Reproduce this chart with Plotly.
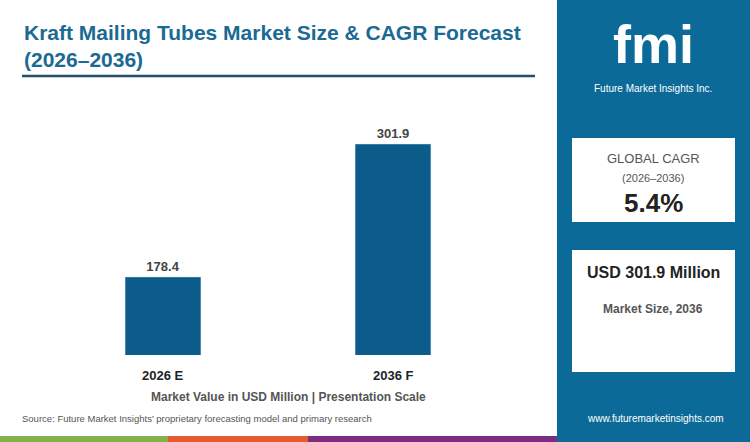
import plotly.graph_objects as go

years = ["2026 E", "2036 F"]
values = [178.4, 301.9]
cagr = "5.4%"
market_size = "USD 301.9 Million"

W, H = 750, 442
def py(p):  # pixel y -> paper y
    return 1 - p / H
def px_(p):
    return p / W

bar_color = "#0b5c8a"
panel = "#0b6a98"

fig = go.Figure(go.Bar(
    x=years, y=values, width=0.33, marker_color=bar_color,
    texttemplate="<b>%{y:.1f}</b>", textposition="outside",
    textfont=dict(size=13, color="#444", family="Liberation Sans, Arial"),
    cliponaxis=False,
))

shapes = [
    dict(type="rect", xref="paper", yref="paper", x0=px_(557), x1=1, y0=0, y1=1,
         fillcolor=panel, line_width=0, layer="below"),
    dict(type="line", xref="paper", yref="paper", x0=px_(22), x1=px_(535), y0=py(76), y1=py(76),
         line=dict(color="#1f4e6e", width=2.5)),
    dict(type="rect", xref="paper", yref="paper", x0=px_(572), x1=px_(735), y0=py(222), y1=py(138),
         fillcolor="white", line_width=0),
    dict(type="rect", xref="paper", yref="paper", x0=px_(572), x1=px_(735), y0=py(372), y1=py(250),
         fillcolor="white", line_width=0),
    dict(type="rect", xref="paper", yref="paper", x0=0, x1=px_(168), y0=0, y1=py(436),
         fillcolor="#84b04a", line_width=0),
    dict(type="rect", xref="paper", yref="paper", x0=px_(168), x1=px_(308), y0=0, y1=py(436),
         fillcolor="#e65a2e", line_width=0),
    dict(type="rect", xref="paper", yref="paper", x0=px_(308), x1=px_(557), y0=0, y1=py(436),
         fillcolor="#7b2d82", line_width=0),
]

def ann(x, y, text, size, color, bold=False, xanchor="center"):
    return dict(xref="paper", yref="paper", x=px_(x), y=py(y), text=f"<b>{text}</b>" if bold else text,
                showarrow=False, xanchor=xanchor, yanchor="middle",
                font=dict(size=size, color=color, family="Liberation Sans, Arial"))

annotations = [
    ann(22, 33, "Kraft Mailing Tubes Market Size & CAGR Forecast", 21, "#1a6a93", True, "left"),
    ann(22, 60, "(2026–2036)", 21, "#1a6a93", True, "left"),
    ann(163, 375, years[0], 13, "#222", True),
    ann(393, 375, years[1], 13, "#222", True),
    ann(288, 397, "Market Value in USD Million | Presentation Scale", 12, "#555", True),
    ann(20, 418, "Source: Future Market Insights' proprietary forecasting model and primary research", 9.5, "#555", False, "left"),
    ann(655, 418, "www.futuremarketinsights.com", 10, "white"),
    ann(653, 44, "fmi", 54, "white", True),
    ann(653, 89, "Future Market Insights Inc.", 10, "white"),
    ann(653, 158, "GLOBAL CAGR", 13, "#555"),
    ann(653, 178, "(2026–2036)", 11, "#555"),
    ann(653, 203, cagr, 26, "#222", True),
    ann(653, 272, market_size, 16, "#222", True),
    ann(653, 309, "Market Size, 2036", 12, "#555", True),
]

fig.update_layout(
    width=W, height=H, margin=dict(l=0, r=0, t=0, b=0),
    paper_bgcolor="white", plot_bgcolor="white", showlegend=False,
    shapes=shapes, annotations=annotations,
    xaxis=dict(domain=[px_(48), px_(508)], range=[-0.5, 1.5], showticklabels=False,
               showgrid=False, zeroline=False, showline=False),
    yaxis=dict(domain=[py(355), py(100)], range=[105.9, 342.7], visible=False),
)

fig.write_html("out.html", config={"displayModeBar": False},
               post_script="document.body.style.margin='0';document.body.style.overflow='hidden';")
